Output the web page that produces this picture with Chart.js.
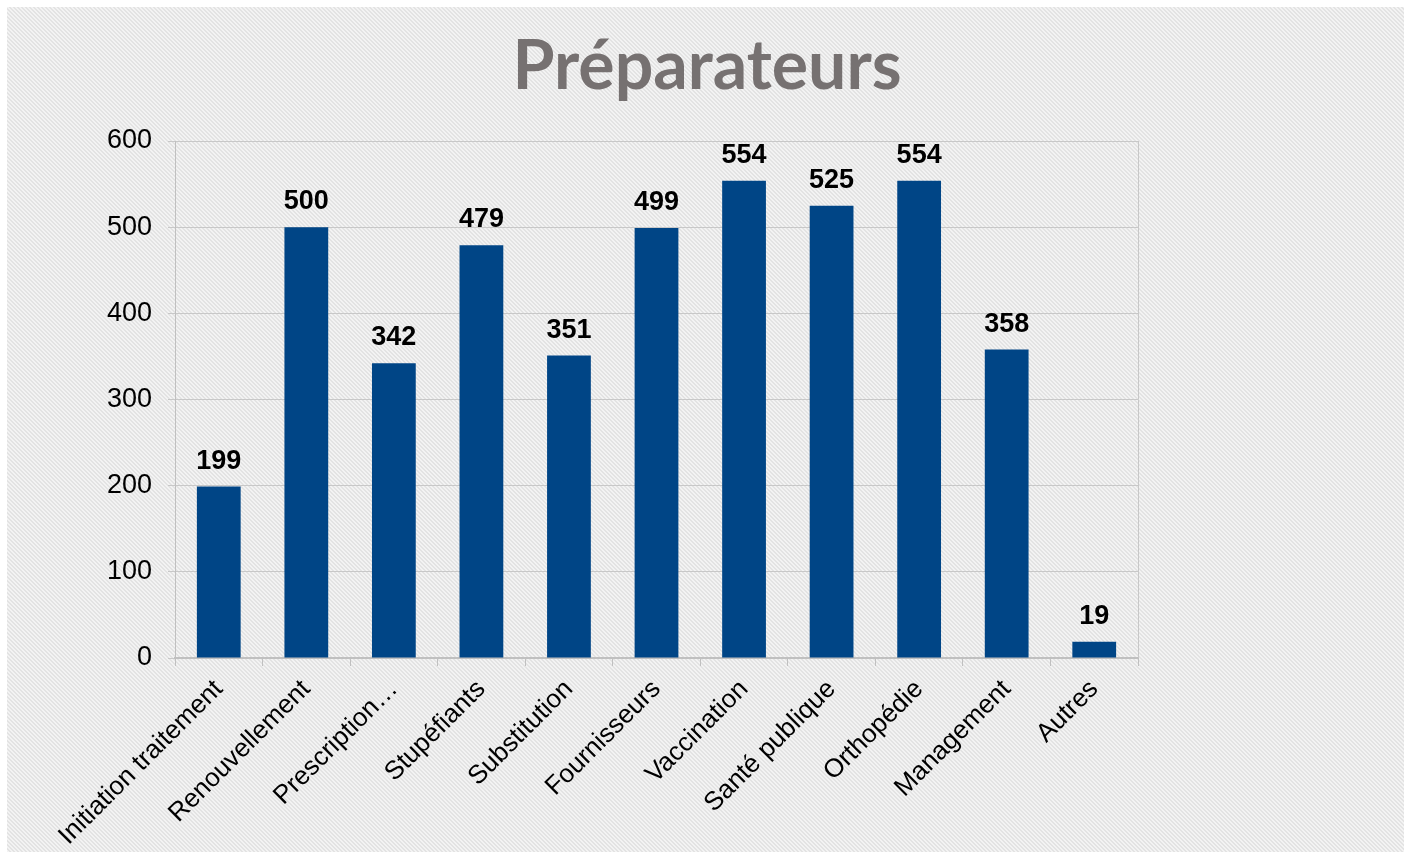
<!DOCTYPE html>
<html>
<head>
<meta charset="utf-8">
<script src="https://cdn.jsdelivr.net/npm/chart.js@4"></script>
<style>
  html, body { margin: 0; padding: 0; background: #fff; }
  #wrap { position: absolute; left: 7px; top: 7px; width: 1397px; height: 845px; }
</style>
</head>
<body>
<div id="wrap"><canvas id="chart"></canvas></div>
<script>
const categories = ['Initiation traitement', 'Renouvellement', 'Prescription…', 'Stupéfiants', 'Substitution',
  'Fournisseurs', 'Vaccination', 'Santé publique', 'Orthopédie', 'Management', 'Autres'];
const values = [199, 500, 342, 479, 351, 499, 554, 525, 554, 358, 19];
const yTicks = [0, 100, 200, 300, 400, 500, 600];
const titleText = 'Préparateurs';

// diagonal stripe background
function makePattern(ctx) {
    const tile = document.createElement('canvas');
    tile.width = 4; tile.height = 4;
    const t = tile.getContext('2d');
    t.fillStyle = '#e3e3e3';
    t.fillRect(0, 0, 4, 4);
    t.fillStyle = '#f3f3f3';
    for (let i = 0; i < 4; i++) {
        t.fillRect(i, i, 1, 1);
        t.fillRect((i + 1) % 4, i, 1, 1);
    }
    return ctx.createPattern(tile, 'repeat');
}

const backgroundPlugin = {
    id: 'bg',
    beforeDraw(chart) {
        const ctx = chart.ctx;
        ctx.save();
        ctx.fillStyle = makePattern(ctx);
        ctx.fillRect(0, 0, chart.width, chart.height);
        ctx.restore();
    },
    afterDraw(chart) {
        const { ctx, chartArea } = chart;
        ctx.save();
        // right border of plot
        ctx.strokeStyle = '#c8c8c8';
        ctx.lineWidth = 1;
        ctx.beginPath();
        ctx.moveTo(chartArea.right + 0.5, chartArea.top);
        ctx.lineTo(chartArea.right + 0.5, chartArea.bottom);
        ctx.stroke();
        // title
        ctx.fillStyle = '#767171';
        ctx.font = 'bold 68px Lato, "Open Sans", sans-serif';
        ctx.textAlign = 'center';
        ctx.textBaseline = 'alphabetic';
        ctx.fillText(titleText, 700, 82);
        // value labels
        const meta = chart.getDatasetMeta(0);
        ctx.fillStyle = '#000';
        ctx.font = 'bold 27px "Liberation Sans", Arial, sans-serif';
        meta.data.forEach((bar, i) => {
            ctx.fillText(String(values[i]), bar.x, bar.y - 18);
        });
        ctx.restore();
    }
};

new Chart(document.getElementById('chart').getContext('2d'), {
    type: 'bar',
    data: {
        labels: categories,
        datasets: [{
            data: values,
            backgroundColor: '#004586',
            borderWidth: 0,
            barPercentage: 0.5,
            categoryPercentage: 1
        }]
    },
    options: {
        responsive: true,
        maintainAspectRatio: false,
        animation: false,
        layout: { padding: { top: 134, right: 266, left: 0, bottom: 0 } },
        plugins: {
            legend: { display: false },
            tooltip: { enabled: false }
        },
        scales: {
            x: {
                grid: { offset: true, drawOnChartArea: false, drawTicks: true, tickLength: 8, color: '#c0c0c0' },
                border: { color: '#c0c0c0', width: 2 },
                ticks: {
                    color: '#000',
                    font: { family: '"Liberation Sans", Arial, sans-serif', size: 26 },
                    minRotation: 45, maxRotation: 45, autoSkip: false, padding: 8
                },
                afterFit(scale) { scale.height = 194; }
            },
            y: {
                min: 0, max: 600,
                afterBuildTicks(scale) { scale.ticks = yTicks.map(v => ({ value: v })); },
                grid: { color: '#c8c8c8', tickLength: 7, drawTicks: true },
                border: { color: '#c0c0c0' },
                ticks: {
                    color: '#000',
                    font: { family: '"Liberation Sans", Arial, sans-serif', size: 27 },
                    padding: 16
                },
                afterFit(scale) { scale.width = 168; }
            }
        }
    },
    plugins: [backgroundPlugin]
});
</script>
</body>
</html>
